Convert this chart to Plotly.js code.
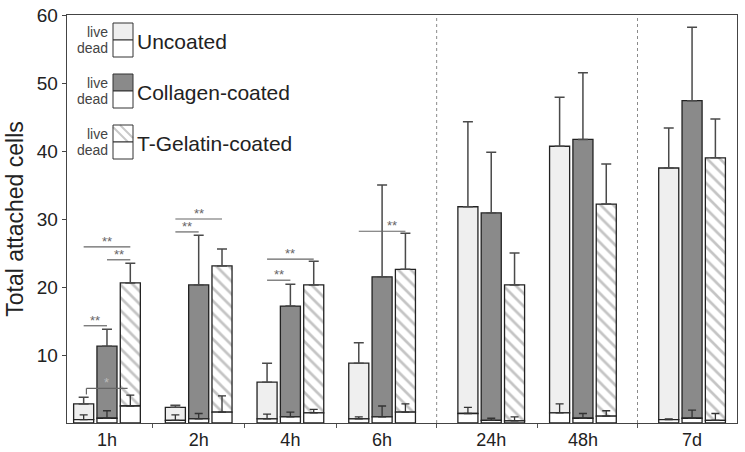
<!DOCTYPE html>
<html><head><meta charset="utf-8">
<script src="https://cdn.plot.ly/plotly-3.0.1.min.js"></script>
<style>html,body{margin:0;padding:0;background:#fff}</style>
</head><body><div id="chart" style="width:745px;height:452px"></div>
<script>
// ---- data ----
const categories = ['1h', '2h', '4h', '6h', '24h', '48h', '7d'];
const seriesNames = ['Uncoated', 'Collagen-coated', 'T-Gelatin-coated'];
// total attached cells (live + dead) and upper error
const uncoatedTotal    = [2.8, 2.3, 6.0, 8.8, 31.8, 40.7, 37.5];
const uncoatedTotalErr = [1.0, 0.3, 2.8, 3.0, 12.5, 7.2, 5.9];
const uncoatedDead     = [0.5, 0.4, 0.6, 0.6, 1.4, 1.5, 0.5];
const uncoatedDeadErr  = [0.7, 0.8, 0.7, 0.3, 0.9, 1.3, 0.1];
const collagenTotal    = [11.3, 20.3, 17.2, 21.5, 30.9, 41.7, 47.4];
const collagenTotalErr = [2.5, 7.3, 3.2, 13.5, 8.9, 9.8, 10.8];
const collagenDead     = [0.7, 0.6, 0.9, 0.9, 0.4, 0.7, 0.7];
const collagenDeadErr  = [1.1, 0.8, 0.7, 1.6, 0.3, 0.7, 1.2];
const tgelTotal        = [20.6, 23.1, 20.3, 22.6, 20.3, 32.2, 39.0];
const tgelTotalErr     = [2.9, 2.5, 3.5, 5.3, 4.7, 5.9, 5.7];
const tgelDead         = [2.5, 1.6, 1.5, 1.6, 0.3, 1.0, 0.4];
const tgelDeadErr      = [1.6, 2.4, 0.5, 1.2, 0.6, 0.8, 1.0];
// significance brackets: group index, bar from/to (0=uncoated,1=collagen,2=T-gelatin), level, label
const brackets = [
  {g: 0, from: 0, to: 1, y: 14.3, label: '**'},
  {g: 0, from: 0, to: 2, y: 25.9, label: '**'},
  {g: 0, from: 1, to: 2, y: 24.0, label: '**'},
  {g: 0, from: 0, to: 2, y: 5.1, label: '*', drop: 4.2, inset: 0.03, color: '#bbbbbb'},
  {g: 1, from: 0, to: 2, y: 30.0, label: '**'},
  {g: 1, from: 0, to: 1, y: 28.1, label: '**'},
  {g: 2, from: 0, to: 2, y: 24.1, label: '**'},
  {g: 2, from: 0, to: 1, y: 21.0, label: '**'},
  {g: 3, from: 0, to: 2, y: 28.2, label: '**', at: 0.72}
];
const periodStarts = [4, 6]; // dashed separator before these groups
const yTicks = [10, 20, 30, 40, 50, 60];

// ---- layout helpers ----
const FONT = 'Liberation Sans, Arial, sans-serif';
const extraGap = 0.19;
const xPos = categories.map((c, i) => i + extraGap * periodStarts.filter(p => p <= i).length);
const bargap = 0.237, bargroupgap = 0.14;
const slot = (1 - bargap) / 3;
const barX = (g, k) => xPos[g] + (k - 1) * slot;

const fills = ['#efefef', '#8a8a8a', '#ffffff'];
const totals = [uncoatedTotal, collagenTotal, tgelTotal];
const totalErrs = [uncoatedTotalErr, collagenTotalErr, tgelTotalErr];
const deads = [uncoatedDead, collagenDead, tgelDead];
const deadErrs = [uncoatedDeadErr, collagenDeadErr, tgelDeadErr];
const zeros = categories.map(() => 0);

const traces = [];
for (let k = 0; k < 3; k++) {
  const live = totals[k].map((t, i) => t - deads[k][i]);
  const marker = {color: fills[k], line: {color: '#222', width: 1.3}};
  if (k === 2) marker.pattern = {shape: '\\', fgcolor: '#c4c4c4', bgcolor: '#ffffff', size: 9, solidity: 0.3};
  traces.push({
    type: 'bar', name: seriesNames[k] + ' live', x: xPos, y: live, base: deads[k],
    offsetgroup: 'g' + k, marker: marker, showlegend: false, hoverinfo: 'skip',
    error_y: {type: 'data', symmetric: false, array: totalErrs[k], arrayminus: zeros,
              color: '#4a4a4a', thickness: 1.5, width: 5}
  });
}
for (let k = 0; k < 3; k++) {
  traces.push({
    type: 'bar', name: seriesNames[k] + ' dead', x: xPos, y: deads[k],
    offsetgroup: 'g' + k, marker: {color: '#ffffff', line: {color: '#222', width: 1.3}},
    showlegend: false, hoverinfo: 'skip',
    error_y: {type: 'data', symmetric: false, array: deadErrs[k], arrayminus: zeros,
              color: '#333', thickness: 1.3, width: 4}
  });
}

const shapes = [];
const annotations = [];
// period separators
periodStarts.forEach(p => {
  const xm = (xPos[p - 1] + xPos[p]) / 2;
  shapes.push({type: 'line', xref: 'x', yref: 'paper', x0: xm, x1: xm, y0: 0, y1: 1,
    line: {color: '#8a8a8a', width: 1, dash: '3px,3px'}});
});
// group boundary ticks
const boundaries = xPos.slice(1).map((x, i) => (xPos[i] + x) / 2);

// significance
brackets.forEach(b => {
  const inset = b.inset || 0;
  const x0 = barX(b.g, b.from) + inset, x1 = barX(b.g, b.to) - inset;
  const col = b.color || '#666';
  shapes.push({type: 'line', xref: 'x', yref: 'y', x0: x0, x1: x1, y0: b.y, y1: b.y,
    line: {color: '#666', width: 1.2}});
  if (b.drop !== undefined) {
    shapes.push({type: 'line', xref: 'x', yref: 'y', x0: x0, x1: x0, y0: b.y, y1: b.drop,
      line: {color: '#666', width: 1.2}});
  }
  const at = b.at === undefined ? 0.5 : b.at;
  annotations.push({xref: 'x', yref: 'y', x: x0 + (x1 - x0) * at, y: b.y, text: b.label,
    showarrow: false, xanchor: 'center', yanchor: 'bottom', yshift: -4,
    font: {family: FONT, size: 13, color: col}});
});

// custom legend (pixel -> paper)
const L = 67, R = 737, T = 15, B = 423;
const px = v => (v - L) / (R - L);
const py = v => (B - v) / (B - T);
const legendRows = [
  {top: 23, fill: fills[0], label: seriesNames[0]},
  {top: 74, fill: fills[1], label: seriesNames[1]},
  {top: 125, fill: null, label: seriesNames[2]}
];
legendRows.forEach(r => {
  const mid = r.top + 17, bot = r.top + 34;
  shapes.push({type: 'rect', xref: 'paper', yref: 'paper', x0: px(113), x1: px(133), y0: py(r.top), y1: py(mid),
    fillcolor: r.fill || '#ffffff', line: {width: 0}});
  if (!r.fill) {
    [[113, r.top + 2, 128, mid], [120, r.top, 133, r.top + 13]].forEach(s => {
      shapes.push({type: 'line', xref: 'paper', yref: 'paper', x0: px(s[0]), y0: py(s[1]), x1: px(s[2]), y1: py(s[3]),
        line: {color: '#c8c8c8', width: 2}});
    });
  }
  shapes.push({type: 'rect', xref: 'paper', yref: 'paper', x0: px(113), x1: px(133), y0: py(r.top), y1: py(mid),
    line: {color: '#333', width: 1}});
  shapes.push({type: 'rect', xref: 'paper', yref: 'paper', x0: px(113), x1: px(133), y0: py(mid), y1: py(bot),
    fillcolor: '#ffffff', line: {color: '#333', width: 1}});
  annotations.push({xref: 'paper', yref: 'paper', x: px(110), y: py(r.top + 9), text: 'live', showarrow: false,
    xanchor: 'right', yanchor: 'middle', font: {family: FONT, size: 14, color: '#444'}});
  annotations.push({xref: 'paper', yref: 'paper', x: px(110), y: py(r.top + 25), text: 'dead', showarrow: false,
    xanchor: 'right', yanchor: 'middle', font: {family: FONT, size: 14, color: '#444'}});
  annotations.push({xref: 'paper', yref: 'paper', x: px(135), y: py(mid + 1), text: r.label, showarrow: false,
    xanchor: 'left', yanchor: 'middle', font: {family: FONT, size: 21, color: '#222'}});
});

const layout = {
  width: 745, height: 452,
  margin: {l: 67, r: 8, t: 15, b: 29},
  paper_bgcolor: '#ffffff', plot_bgcolor: '#ffffff',
  barmode: 'group', bargap: bargap, bargroupgap: bargroupgap,
  showlegend: false,
  font: {family: FONT, color: '#222'},
  xaxis: {
    range: [-0.436, 6.87], tickmode: 'array', tickvals: xPos, ticktext: categories,
    ticks: '', showgrid: false, zeroline: false,
    showline: true, linecolor: '#444', linewidth: 1.3, mirror: true,
    tickfont: {size: 18, color: '#222'},
    minor: {tickmode: 'array', tickvals: boundaries, ticks: 'outside', ticklen: 4, tickcolor: '#555', tickwidth: 1, showgrid: false}
  },
  yaxis: {
    range: [0, 60], tickmode: 'array', tickvals: yTicks, ticks: 'outside', ticklen: 4,
    tickcolor: '#444', showgrid: false, zeroline: false,
    showline: true, linecolor: '#444', linewidth: 1.3, mirror: true,
    tickfont: {size: 19, color: '#222'},
    title: {text: 'Total attached cells', font: {size: 23, color: '#222'}, standoff: 6}
  },
  shapes: shapes,
  annotations: annotations
};

Plotly.newPlot('chart', traces, layout, {staticPlot: true, displayModeBar: false});
</script>
</body></html>
